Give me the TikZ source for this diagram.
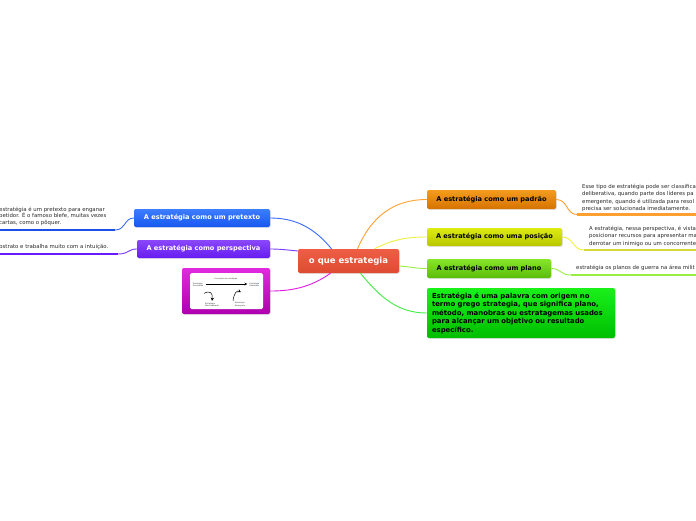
\documentclass[tikz,border=0pt]{standalone}
\usepackage{fontspec}
\setmainfont{DejaVu Sans}
\usetikzlibrary{shadows}
\definecolor{cOr}{HTML}{FFA030}
\definecolor{oTop}{HTML}{F49B1E}
\definecolor{oBot}{HTML}{D57300}
\definecolor{cYe}{HTML}{F0F040}
\definecolor{yTop}{HTML}{DDEB10}
\definecolor{yBot}{HTML}{B8C600}
\definecolor{cLg}{HTML}{99EE44}
\definecolor{lTop}{HTML}{88E62A}
\definecolor{lBot}{HTML}{5ABD08}
\definecolor{cGr}{HTML}{44EE44}
\definecolor{gTop}{HTML}{1AF01A}
\definecolor{gBot}{HTML}{00BE00}
\definecolor{cBl}{HTML}{3A6CFF}
\definecolor{bTop}{HTML}{3D7DFF}
\definecolor{bBot}{HTML}{1858F0}
\definecolor{uBl}{HTML}{1A4FE8}
\definecolor{cPu}{HTML}{7A3BFF}
\definecolor{pTop}{HTML}{8A47FF}
\definecolor{pBot}{HTML}{661CF0}
\definecolor{uPu}{HTML}{6A1AFF}
\definecolor{cMa}{HTML}{E01AE0}
\definecolor{mTop}{HTML}{E02BE0}
\definecolor{mBot}{HTML}{AE00AE}
\definecolor{cTop}{HTML}{EE5E44}
\definecolor{cBot}{HTML}{DE4B32}
\definecolor{leafText}{HTML}{2A2A2A}
\begin{document}
\begin{tikzpicture}[x=1pt,y=-1pt,
  box/.style={rounded corners=2pt, inner sep=0pt,
    font=\bfseries\fontsize{6.6}{7.5}\selectfont,
    drop shadow={opacity=0.22,shadow xshift=0.8pt,shadow yshift=-0.9pt}},
  leaf/.style={anchor=north west, inner sep=0pt, align=left,
    font=\fontsize{5.4}{7.6}\selectfont, text=leafText},
  conn/.style={line width=0.9pt},
  uline/.style={line width=2.2pt},
  tiny/.style={inner sep=0pt, align=left, font=\fontsize{1.9}{2.2}\selectfont, text=black!80}]
\useasboundingbox (0,0) rectangle (696,520);
\fill[white] (0,0) rectangle (696,520);

% central
\node[box, top color=cTop, bottom color=cBot, minimum width=101pt, minimum height=24pt,
  text=white, font=\bfseries\fontsize{8.5}{9.5}\selectfont] (c) at (348.5,261) {o que estrategia};

% right branch nodes
\node[box, top color=oTop, bottom color=oBot, minimum width=129pt, minimum height=19pt] (p) at (491.5,199.5) {A estratégia como um padrão};
\node[box, top color=yTop, bottom color=yBot, minimum width=135pt, minimum height=18pt] (y) at (494.5,237) {A estratégia como uma posição};
\node[box, top color=lTop, bottom color=lBot, minimum width=124pt, minimum height=19pt] (pl) at (489,268.5) {A estratégia como um plano};
\node[box, top color=gTop, bottom color=gBot, minimum width=188pt, minimum height=50pt,
  text width=178pt, align=left, font=\bfseries\fontsize{6.9}{8.5}\selectfont] (g) at (521,313)
  {Estratégia é uma palavra com origem no\\termo grego strategia, que significa plano,\\método, manobras ou estratagemas usados\\para alcançar um objetivo ou resultado\\específico.};

% left branch nodes
\node[box, top color=bTop, bottom color=bBot, minimum width=136pt, minimum height=18pt, text=white] (pt) at (202,218) {A estratégia como um pretexto};
\node[box, top color=pTop, bottom color=pBot, minimum width=133pt, minimum height=18pt, text=white] (ps) at (203.5,249) {A estratégia como perspectiva};
\node[box, top color=mTop, bottom color=mBot, minimum width=88pt, minimum height=46pt] (im) at (226,291) {};
\node[fill=white, rounded corners=1.5pt, minimum width=73pt, minimum height=36pt, inner sep=0pt] (imw) at (226.5,291) {};

% tiny diagram inside the image
\node[tiny] (t0) at (226,278.5) {Formação de estratégia};
\node[tiny] (t1) at (198,284.5) {Estratégia\\Pretendida};
\node[tiny] (t2) at (254.5,284.5) {Estratégia\\Realizada};
\draw[-stealth, line width=0.35pt] ([xshift=3pt,yshift=0.5pt]t1.east) -- ([xshift=-2pt,yshift=0.5pt]t2.west);
\node[tiny] (t3) at (212,304.5) {Estratégia\\Não Realizada};
\node[tiny] (t4) at (240,304.5) {Estratégia\\Emergente};
\draw[-stealth, line width=0.5pt] ([xshift=-8pt,yshift=9pt]t3.north) .. controls (210,290) and (213,293) .. ([yshift=1.5pt]t3.north);
\draw[-stealth, line width=0.5pt] ([xshift=-7pt,yshift=1.5pt]t4.north) .. controls (234,293) and (237,290) .. ([xshift=1pt,yshift=10pt]t4.north);

% connectors from the centre
\draw[conn, cOr] ([xshift=9pt]c.north) .. controls (372,215) and (395,199.5) .. (p.west);
\draw[conn, cYe] ([xshift=26pt]c.north) .. controls (392,240) and (405,237) .. (y.west);
\draw[conn, cLg] ([yshift=-5pt]c.east) .. controls (413,267) and (415,268.5) .. (pl.west);
\draw[conn, cGr] ([xshift=12pt]c.south) .. controls (382,300) and (400,313) .. (g.west);
\draw[conn, cBl] ([xshift=-17pt]c.north) .. controls (312,225) and (292,218) .. (pt.east);
\draw[conn, cPu] ([yshift=10pt]c.west) .. controls (288,250) and (280,249) .. (ps.east);
\draw[conn, cMa] ([xshift=-18pt]c.south) .. controls (310,288) and (290,291) .. (im.east);

% leaves
\coordinate (u1) at (577,214.5);
\coordinate (u2) at (584,250);
\coordinate (u3) at (571,275);
\coordinate (u4) at (115,230);
\coordinate (u5) at (118,254);
\draw[conn, cOr] (p.east) .. controls (568,199.5) and (566,214.5) .. (u1);
\draw[uline, cOr] (u1) -- (700,214.5);
\draw[conn, cYe] (y.east) .. controls (574,237) and (572,250) .. (u2);
\draw[uline, cYe!90!black] (u2) -- (700,250);
\draw[conn, cLg] (pl.east) .. controls (561,268.5) and (560,275) .. (u3);
\draw[uline, cLg] (u3) -- (700,275);
\draw[conn, cBl] (pt.west) .. controls (124,218) and (126,230) .. (u4);
\draw[uline, uBl] (u4) -- (-5,230);
\draw[conn, cPu] (ps.west) .. controls (128,249) and (129,254) .. (u5);
\draw[uline, uPu] (u5) -- (-5,254);

\node[leaf] (lp) at (582,183.5) {Esse tipo de estratégia pode ser classifica\\deliberativa, quando parte dos líderes pa\\emergente, quando é utilizada para resol\\precisa ser solucionada imediatamente.};
\node[leaf] (ly) at (589,225.5) {A estratégia, nessa perspectiva, é vista\\posicionar recursos para apresentar ma\\derrotar um inimigo ou um concorrente};
\node[leaf] (lpl) at (576,264.5) {estratégia os planos de guerra na área milit};
\node[leaf, font=\fontsize{5.4}{6.7}\selectfont] (lpt) at (-1,206.5) {estratégia é um pretexto para enganar\\petidor. É o famoso blefe, muitas vezes\\cartas, como o pôquer.};
\node[leaf] (lps) at (-1,244) {bstrato e trabalha muito com a intuição.};
\end{tikzpicture}
\end{document}
